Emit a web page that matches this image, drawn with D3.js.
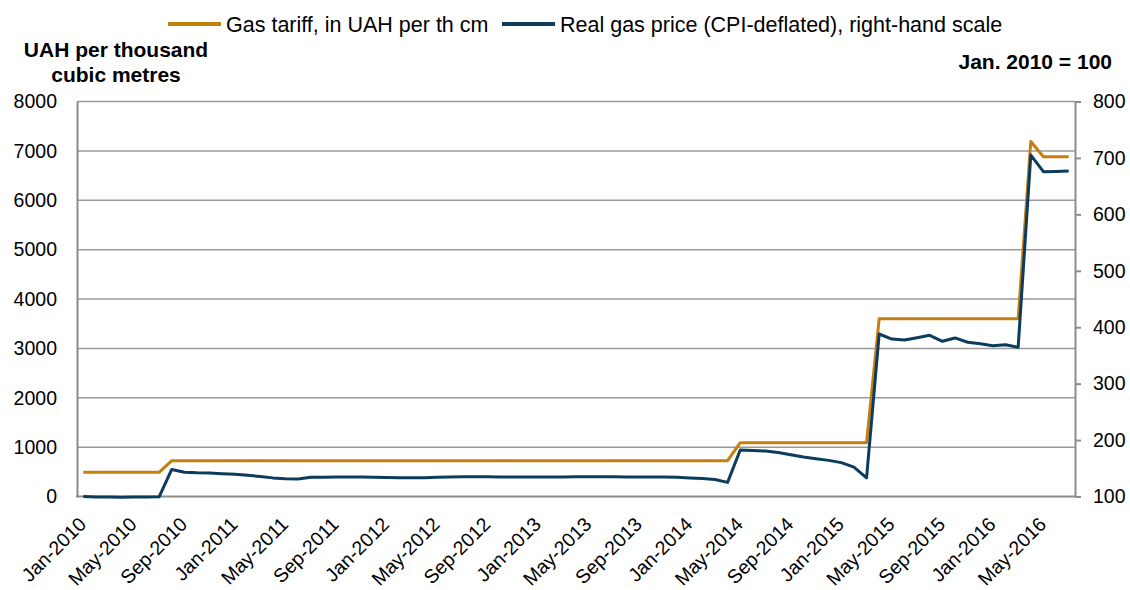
<!DOCTYPE html>
<html>
<head>
<meta charset="utf-8">
<script src="https://cdn.jsdelivr.net/npm/d3@7"></script>
<style>
  html, body { margin: 0; padding: 0; background: #fff; }
  svg { display: block; font-family: "Liberation Sans", Arial, sans-serif; }
</style>
</head>
<body>
<svg id="chart" width="1130" height="590"></svg>
<script>
const months = [
  "Jan-2010","Feb-2010","Mar-2010","Apr-2010","May-2010","Jun-2010","Jul-2010","Aug-2010","Sep-2010","Oct-2010","Nov-2010","Dec-2010",
  "Jan-2011","Feb-2011","Mar-2011","Apr-2011","May-2011","Jun-2011","Jul-2011","Aug-2011","Sep-2011","Oct-2011","Nov-2011","Dec-2011",
  "Jan-2012","Feb-2012","Mar-2012","Apr-2012","May-2012","Jun-2012","Jul-2012","Aug-2012","Sep-2012","Oct-2012","Nov-2012","Dec-2012",
  "Jan-2013","Feb-2013","Mar-2013","Apr-2013","May-2013","Jun-2013","Jul-2013","Aug-2013","Sep-2013","Oct-2013","Nov-2013","Dec-2013",
  "Jan-2014","Feb-2014","Mar-2014","Apr-2014","May-2014","Jun-2014","Jul-2014","Aug-2014","Sep-2014","Oct-2014","Nov-2014","Dec-2014",
  "Jan-2015","Feb-2015","Mar-2015","Apr-2015","May-2015","Jun-2015","Jul-2015","Aug-2015","Sep-2015","Oct-2015","Nov-2015","Dec-2015",
  "Jan-2016","Feb-2016","Mar-2016","Apr-2016","May-2016","Jun-2016","Jul-2016"
];

// Gas tariff, UAH per thousand cubic metres (left scale)
const gasTariff = [
  490,490,490,490,490,490,490,725,725,725,725,725,
  725,725,725,725,725,725,725,725,725,725,725,725,
  725,725,725,725,725,725,725,725,725,725,725,725,
  725,725,725,725,725,725,725,725,725,725,725,725,
  725,725,725,725,1090,1090,1090,1090,1090,1090,1090,1090,
  1090,1090,1090,3600,3600,3600,3600,3600,3600,3600,3600,3600,
  3600,3600,3600,7190,6880,6880,6880
];

// Real gas price, CPI-deflated, Jan. 2010 = 100 (right scale)
const realPrice = [
  100,99.3,98.9,98.8,98.9,99.1,99.4,148,143,142,141.5,140.5,
  139.5,137.5,135.5,133,131.5,131,134,134.3,134.5,134.5,134.5,134.3,
  133.8,133.3,133.2,133.3,134,134.5,135,135,134.8,134.7,134.5,134.5,
  134.5,134.5,134.7,135,135.2,135,134.8,134.7,134.5,134.5,134.5,134,
  133,132,130,125,182.4,181.5,180.5,178,174,170,167,164,
  160,152,133,388,379,377.3,381.4,385.6,375,381,373.3,370.8,
  367.2,369,364.4,705,675.6,676,676.8
];

const leftTicks = [0,1000,2000,3000,4000,5000,6000,7000,8000];
const rightTicks = [100,200,300,400,500,600,700,800];
const xTickLabels = months.filter((d, i) => i % 4 === 0);

const seriesNames = ["Gas tariff, in UAH per th cm", "Real gas price (CPI-deflated), right-hand scale"];
const colors = ["#C47F0E", "#0B3C5D"];

const svg = d3.select("#chart");
const L = 77, R = 1075, T = 101.5, B = 496.5;
const tickFont = 19.5, legendFont = 21.5, titleFont = 21;

const x = d3.scaleBand().domain(months).range([L, R]);
const cx = d => x(d) + x.bandwidth() / 2;
const yL = d3.scaleLinear().domain([0, 8000]).range([B, T]);
const yR = d3.scaleLinear().domain([100, 800]).range([B, T]);

// gridlines
svg.append("g").selectAll("line").data(leftTicks.filter(d => d > 0)).join("line")
  .attr("x1", L).attr("x2", R)
  .attr("y1", d => yL(d)).attr("y2", d => yL(d))
  .attr("stroke", "#9a9a9a").attr("stroke-width", 1.5);

// left axis
const gL = svg.append("g").attr("transform", `translate(${L},0)`)
  .call(d3.axisLeft(yL).tickValues(leftTicks).tickSize(0).tickPadding(20).tickFormat(d3.format("d")));
gL.select(".domain").attr("stroke", "#8c8c8c").attr("stroke-width", 2);
gL.selectAll("text").attr("font-size", tickFont).attr("fill", "#000").attr("font-family", "Liberation Sans, Arial, sans-serif");

// right axis
const gR = svg.append("g").attr("transform", `translate(${R},0)`)
  .call(d3.axisRight(yR).tickValues(rightTicks).tickSizeInner(6).tickSizeOuter(0).tickPadding(12).tickFormat(d3.format("d")));
gR.select(".domain").attr("stroke", "#8c8c8c").attr("stroke-width", 2);
gR.selectAll(".tick line").attr("stroke", "#8c8c8c").attr("stroke-width", 2);
gR.selectAll("text").attr("font-size", tickFont).attr("fill", "#000").attr("font-family", "Liberation Sans, Arial, sans-serif");

// bottom axis line
svg.append("line").attr("x1", L - 1).attr("x2", R + 1).attr("y1", B).attr("y2", B)
  .attr("stroke", "#8c8c8c").attr("stroke-width", 2);

// x tick labels
svg.append("g").selectAll("text").data(xTickLabels).join("text")
  .attr("transform", d => `translate(${cx(d) + 4},${B + 29}) rotate(-45)`)
  .attr("text-anchor", "end")
  .attr("font-size", tickFont)
  .attr("fill", "#000")
  .text(d => d);

// lines
const lineL = d3.line().x((d, i) => cx(months[i])).y(d => yL(d));
const lineR = d3.line().x((d, i) => cx(months[i])).y(d => yR(d));
svg.append("path").datum(gasTariff).attr("d", lineL)
  .attr("fill", "none").attr("stroke", colors[0]).attr("stroke-width", 3).attr("stroke-linejoin", "round");
svg.append("path").datum(realPrice).attr("d", lineR)
  .attr("fill", "none").attr("stroke", colors[1]).attr("stroke-width", 3).attr("stroke-linejoin", "round");

// titles
svg.append("text").attr("x", 116).attr("y", 57).attr("text-anchor", "middle")
  .attr("font-size", titleFont).attr("font-weight", "bold").text("UAH per thousand");
svg.append("text").attr("x", 116).attr("y", 82).attr("text-anchor", "middle")
  .attr("font-size", titleFont).attr("font-weight", "bold").text("cubic metres");
svg.append("text").attr("x", 1112).attr("y", 69).attr("text-anchor", "end")
  .attr("font-size", titleFont).attr("font-weight", "bold").text("Jan. 2010 = 100");

// legend
const legendX = [168, 502];
const ly = 24;
seriesNames.forEach((name, i) => {
  svg.append("line").attr("x1", legendX[i]).attr("x2", legendX[i] + 53).attr("y1", ly).attr("y2", ly)
    .attr("stroke", colors[i]).attr("stroke-width", 4);
  svg.append("text").attr("x", legendX[i] + 58).attr("y", ly + 7.5)
    .attr("font-size", legendFont).attr("fill", "#000").text(name);
});
</script>
</body>
</html>
